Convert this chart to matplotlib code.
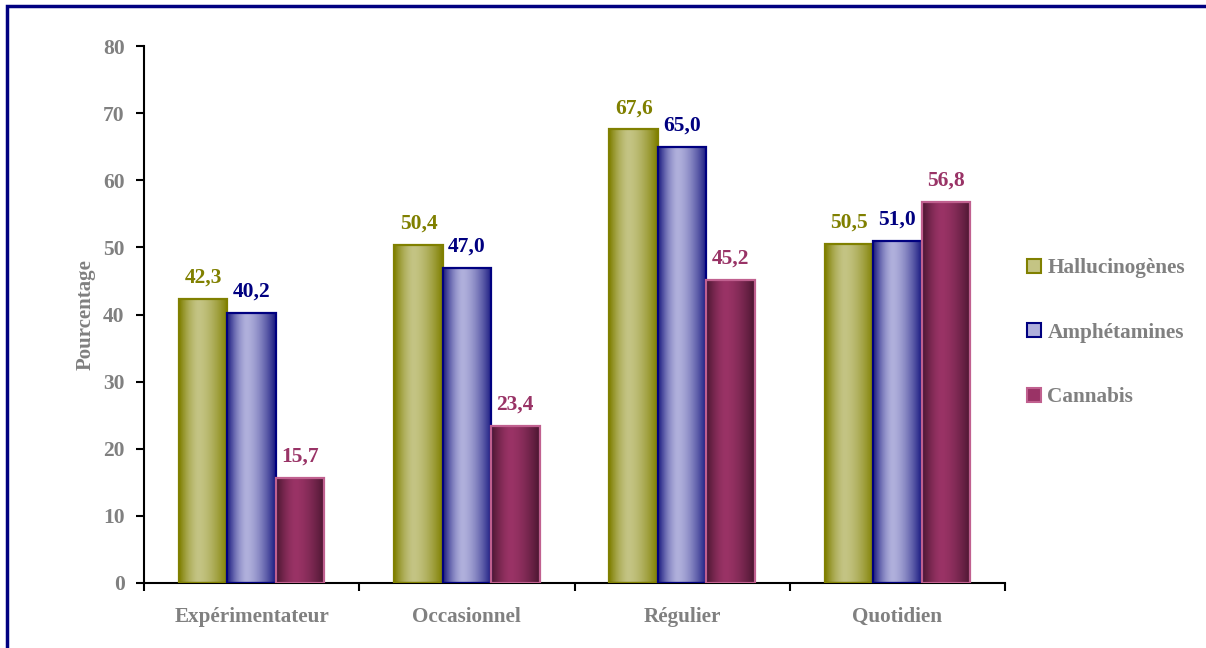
import numpy as np
import matplotlib
matplotlib.use("Agg")
import matplotlib.pyplot as plt
from matplotlib.colors import to_rgb
from matplotlib.patches import Rectangle, Patch

plt.rcParams['font.family'] = ['Liberation Serif', 'DejaVu Serif']
plt.rcParams['font.weight'] = 'bold'

# Data
categories = ["Expérimentateur", "Occasionnel", "Régulier", "Quotidien"]
series = ["Hallucinogènes", "Amphétamines", "Cannabis"]
hallucinogenes = [42.3, 50.4, 67.6, 50.5]
amphetamines = [40.2, 47.0, 65.0, 51.0]
cannabis = [15.7, 23.4, 45.2, 56.8]
values = [hallucinogenes, amphetamines, cannabis]
yticks = [0, 10, 20, 30, 40, 50, 60, 70, 80]

# styles: (dark edge of gradient, light centre, border, label colour)
styles = [
    ("#7f7f00", "#c4c484", "#808000", "#808000"),
    ("#1a1a80", "#b0b0dc", "#000080", "#000080"),
    ("#4a1630", "#9a3366", "#c0608f", "#993366"),
]
grey = "#808080"


def gradient_img(dark, light, n=64):
    d = np.array(to_rgb(dark))
    l = np.array(to_rgb(light))
    x = np.linspace(0, 1, n)
    peak = 0.4
    t = np.where(x < peak, (peak - x) / peak, (x - peak) / (1 - peak))
    t = t ** 1.6
    cols = l[None, :] * (1 - t[:, None]) + d[None, :] * t[:, None]
    return cols[None, :, :]


fig = plt.figure(figsize=(12.06, 6.48), dpi=100)
ax = fig.add_axes([144 / 1206, 1 - 583 / 648, (1005 - 144) / 1206, (583 - 46) / 648])

# blue frame around the chart area
frame = Rectangle((7 / 1206, -0.1), 1.2, 1 - 6 / 648 + 0.1, transform=fig.transFigure,
                  fill=False, edgecolor="#000080", linewidth=2.5, clip_on=False)
fig.patches.append(frame)

x = np.arange(len(categories))
w = 0.225
for i, (vals, (dark, light, edge, lab)) in enumerate(zip(values, styles)):
    bars = ax.bar(x + (i - 1) * w, vals, width=w, facecolor="none",
                  edgecolor=edge, linewidth=1.6, zorder=3)
    img = gradient_img(dark, light)
    for b, v in zip(bars, vals):
        x0, y0 = b.get_x(), b.get_y()
        im = ax.imshow(img, extent=(x0, x0 + b.get_width(), y0, y0 + b.get_height()),
                       aspect="auto", zorder=2, interpolation="bilinear")
        im.set_clip_path(b)
        ax.annotate(f"{v:.1f}".replace(".", ","), (x0 + b.get_width() / 2, v),
                    xytext=(0, 8), textcoords="offset points", ha="center", va="bottom",
                    color=lab, fontsize=15.5, fontweight="bold")

ax.set_xlim(-0.5, len(categories) - 0.5)
ax.set_ylim(0, 80)
ax.set_yticks(yticks)
ax.set_xticks(x)
ax.set_xticklabels(categories)
ax.set_xticks(np.arange(-0.5, len(categories)), minor=True)
ax.tick_params(axis="x", which="major", length=0, pad=17, labelsize=15.2, labelcolor=grey)
ax.tick_params(axis="x", which="minor", length=6, width=1.5, direction="out")
ax.tick_params(axis="y", length=6, width=1.5, direction="out", pad=8,
               labelsize=15.5, labelcolor=grey)
for lbl in ax.get_xticklabels() + ax.get_yticklabels():
    lbl.set_fontweight("bold")

for s in ["top", "right"]:
    ax.spines[s].set_visible(False)
for s in ["left", "bottom"]:
    ax.spines[s].set_linewidth(1.5)

ax.set_ylabel("Pourcentage", color=grey, fontsize=15, fontweight="bold", labelpad=5)

handles = [Patch(facecolor=light, edgecolor=edge, linewidth=1.5) for (_, light, edge, _) in styles]
leg = fig.legend(handles, series, loc="upper left", bbox_to_anchor=(1008 / 1206, 1 - 239 / 648),
                 frameon=False, handlelength=0.65, handleheight=0.65, handletextpad=0.3,
                 labelspacing=2.1, prop={"size": 15.3, "weight": "bold"})
for t in leg.get_texts():
    t.set_color(grey)

fig.savefig("out.png", dpi=100)
